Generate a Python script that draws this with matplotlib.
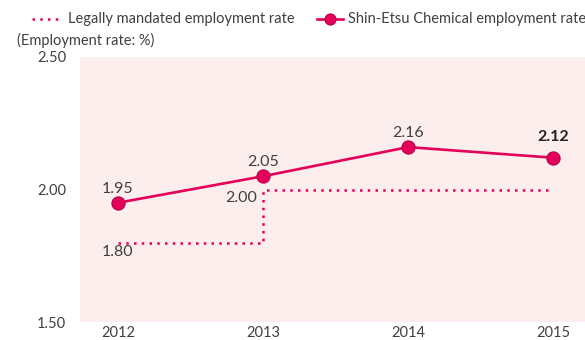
import matplotlib
matplotlib.use("Agg")
import matplotlib.pyplot as plt
from matplotlib.lines import Line2D

years = [2012, 2013, 2014, 2015]
company_rate = [1.95, 2.05, 2.16, 2.12]
legal_rate = [1.80, 2.00, 2.00, 2.00]
yticks = [1.50, 2.00, 2.50]

RED = "#E5005A"
GRAY = "#404040"
DOTS = (0, (1, 2.1))
plt.rcParams["font.family"] = ["Lato", "DejaVu Sans"]

W, H = 585, 340
fig = plt.figure(figsize=(W / 100, H / 100), dpi=100)
ax = fig.add_axes([80 / W, 18 / H, 505 / W, 265 / H])
ax.set_facecolor("#FCEEED")

# legal minimum, stepping up in 2013
ax.plot(years, legal_rate, drawstyle="steps-post", color=RED, lw=1.8, linestyle=DOTS)
ax.plot(years, company_rate, color=RED, lw=1.9, marker="o", ms=9.5,
        markeredgecolor="#B8004A", markeredgewidth=0.8, zorder=3)

ax.set_xlim(2011.738, 2015.22)
ax.set_ylim(1.5, 2.5)
ax.set_xticks(years)
ax.set_yticks(yticks)
ax.set_yticklabels([f"{v:.2f}" for v in yticks])
ax.tick_params(length=0, labelsize=10.5, colors=GRAY)
ax.tick_params(axis="x", pad=3)
ax.tick_params(axis="y", pad=10)
for s in ax.spines.values():
    s.set_visible(False)

# value labels; the latest year is set in bold
offsets = [5, 5, 5, 10]
for i, (x, y) in enumerate(zip(years, company_rate)):
    last = i == len(years) - 1
    ax.annotate(f"{y:.2f}", (x, y), xytext=(0, offsets[i]), textcoords="offset points",
                ha="center", va="bottom", fontsize=11.5,
                fontweight="bold" if last else "normal",
                color="#222222" if last else GRAY)
ax.annotate(f"{legal_rate[0]:.2f}", (years[0], legal_rate[0]), xytext=(0, -2),
            textcoords="offset points", ha="center", va="top", fontsize=11.5, color=GRAY)
ax.annotate(f"{legal_rate[1]:.2f}", (years[1], legal_rate[1]), xytext=(-4, -1),
            textcoords="offset points", ha="right", va="top", fontsize=11.5, color=GRAY)

# legend row across the top
fig.add_artist(Line2D([32 / W, 60 / W], [1 - 19 / H] * 2, color=RED, lw=1.8, linestyle=DOTS))
fig.text(68 / W, 1 - 19 / H, "Legally mandated employment rate", fontsize=10.5,
         color=GRAY, va="center")
fig.add_artist(Line2D([317 / W, 343 / W], [1 - 19 / H] * 2, color=RED, lw=1.9))
fig.add_artist(Line2D([330 / W], [1 - 19 / H], color=RED, marker="o", ms=8,
                      markeredgecolor="#B8004A", markeredgewidth=0.8))
fig.text(348 / W, 1 - 19 / H, "Shin-Etsu Chemical employment rate", fontsize=10.5,
         color=GRAY, va="center")
fig.text(17 / W, 1 - 40 / H, "(Employment rate: %)", fontsize=10.5, color=GRAY, va="center")

fig.savefig("out.png", dpi=100)
